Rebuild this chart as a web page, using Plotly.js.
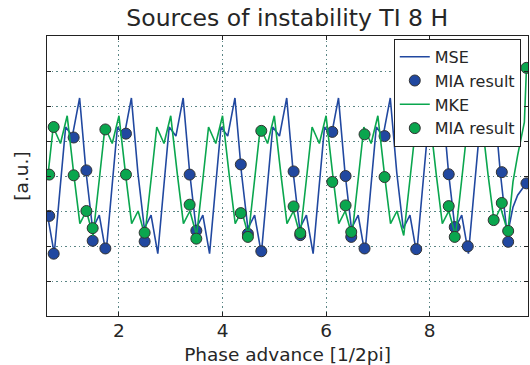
<!DOCTYPE html>
<html>
<head>
<meta charset="utf-8">
<script src="https://cdn.plot.ly/plotly-3.0.1.min.js"></script>
<style>html,body{margin:0;padding:0;background:#fff;}#chart{width:530px;height:365px;}</style>
</head>
<body>
<div id="chart"></div>
<script>
// MSE line (blue)
var mseX = [0.62,0.75,0.86,0.97,
  1.10,1.24,1.365,1.49,1.62,1.75,1.86,1.97,
  2.10,2.24,2.365,2.49,2.62,2.75,2.86,2.97,
  3.10,3.24,3.365,3.49,3.62,3.75,3.86,3.97,
  4.10,4.24,4.365,4.49,4.62,4.75,4.86,4.97,
  5.10,5.24,5.365,5.49,5.62,5.75,5.86,5.97,
  6.10,6.24,6.365,6.49,6.62,6.75,6.86,6.97,
  7.10,7.24,7.365,7.49,7.62,7.75,7.86,7.97,
  8.10,8.24,8.365,8.49,8.62,8.75,8.86,8.97,
  9.10,9.24,9.365,9.50,9.61,9.70,9.87];
var mseY = [2.88,1.78,3.60,5.40,
  5.14,6.23,4.10,2.50,2.88,1.78,3.60,5.40,
  5.14,6.23,4.10,2.50,2.88,1.78,3.60,5.40,
  5.14,6.23,4.10,2.50,2.88,1.78,3.60,5.40,
  5.14,6.23,4.10,2.50,2.88,1.78,3.60,5.40,
  5.14,6.23,4.10,2.50,2.88,1.78,3.60,5.40,
  5.14,6.23,4.10,2.50,2.88,1.78,3.60,5.40,
  5.14,6.23,4.10,2.50,2.88,1.78,3.60,5.40,
  5.14,6.23,4.10,2.50,2.88,1.78,3.60,5.40,
  5.14,6.23,4.10,2.30,3.11,3.45,3.80];

// MSE MIA result (blue markers)
var miaMseX = [0.653,0.739,1.125,1.371,1.492,1.737,2.135,2.496,3.365,3.494,4.353,4.49,4.749,5.373,5.502,6.12,6.377,6.486,6.743,7.13,7.741,8.369,8.485,8.737,9.394,9.517,9.87];
var miaMseY = [2.86,1.78,5.10,4.16,2.15,1.93,5.21,2.13,4.04,2.44,4.33,2.35,1.85,4.13,2.31,5.26,4.00,2.26,1.93,5.14,1.91,4.05,2.54,1.99,4.11,2.12,3.79];

// MKE line (green)
var mkeX = [0.62,0.73,0.87,
  1.00,1.13,1.245,1.37,1.50,1.62,1.73,1.87,
  2.00,2.13,2.245,2.37,2.50,2.62,2.73,2.87,
  3.00,3.13,3.245,3.37,3.50,3.62,3.73,3.87,
  4.00,4.13,4.245,4.37,4.50,4.62,4.73,4.87,
  5.00,5.13,5.245,5.37,5.50,5.62,5.73,5.87,
  6.00,6.13,6.245,6.37,6.50,6.62,6.73,6.87,
  7.00,7.13,7.245,7.37,7.50,7.62,7.73,7.87,
  8.00,8.13,8.245,8.37,8.50,8.62,8.73,8.87,
  9.00,9.13,9.245,9.37,9.51,9.61,9.70,9.83,9.87];
var mkeY = [3.90,5.40,4.93,
  5.72,4.02,2.64,3.00,2.30,3.90,5.40,4.93,
  5.72,4.02,2.64,3.00,2.30,3.90,5.40,4.93,
  5.72,4.02,2.64,3.00,2.30,3.90,5.40,4.93,
  5.72,4.02,2.64,3.00,2.30,3.90,5.40,4.93,
  5.72,4.02,2.64,3.00,2.30,3.90,5.40,4.93,
  5.72,4.02,2.64,3.00,2.30,3.90,5.40,4.93,
  5.72,4.02,2.64,3.00,2.30,3.90,5.40,4.93,
  5.72,4.02,2.64,3.00,2.30,3.90,5.40,4.93,
  5.72,4.02,2.70,3.10,2.40,3.83,4.59,5.54,7.07];

// MKE MIA result (green markers)
var miaMkeX = [0.653,0.739,1.125,1.371,1.492,1.737,2.135,2.496,3.365,3.494,4.353,4.49,4.749,5.373,5.502,6.12,6.377,6.486,6.743,7.13,8.369,8.485,9.237,9.394,9.517,9.87];
var miaMkeY = [4.04,5.40,4.02,3.00,2.51,5.33,4.04,2.38,3.18,2.21,2.94,2.26,5.29,3.13,2.37,3.83,3.16,2.40,5.19,3.97,3.14,2.26,2.74,3.23,2.43,7.09];

var xTicks = [2,4,6,8];
var labels = {title: 'Sources of instability TI 8 H', x: 'Phase advance [1/2pi]', y: '[a.u.]'};

var BLUE = '#2148a0', GREEN = '#0aa64e';
var FONT = 'DejaVu Sans, sans-serif';
var TXT = '#262626';

var traces = [
  {x: mseX, y: mseY, mode: 'lines', name: 'MSE', line: {color: BLUE, width: 1.6}},
  {x: miaMseX, y: miaMseY, mode: 'markers', name: 'MIA result',
   marker: {color: BLUE, size: 11, line: {color: '#333', width: 1}}},
  {x: mkeX, y: mkeY, mode: 'lines', name: 'MKE', line: {color: GREEN, width: 1.6}},
  {x: miaMkeX, y: miaMkeY, mode: 'markers', name: 'MIA result',
   marker: {color: GREEN, size: 11, line: {color: '#333', width: 1}}}
];

var layout = {
  width: 530, height: 365,
  margin: {l: 47, r: 2, t: 36, b: 49},
  paper_bgcolor: '#fff', plot_bgcolor: '#fff',
  font: {family: FONT, color: TXT, size: 18},
  title: {text: labels.title, font: {family: FONT, size: 23.5, color: TXT},
          x: 0.542, xanchor: 'center', y: 0.951, yanchor: 'middle', yref: 'container'},
  xaxis: {
    range: [0.61, 9.90], tickvals: xTicks, ticktext: xTicks.map(String),
    ticks: 'inside', ticklen: 4, tickcolor: '#222', mirror: 'ticks',
    showline: true, linecolor: '#222', linewidth: 1.3,
    showgrid: true, gridcolor: '#5a8585', gridwidth: 1, griddash: '1.5px,3px',
    zeroline: false, tickfont: {size: 18.5, color: TXT}, ticklabelstandoff: -3,
    title: {text: labels.x, font: {size: 18.5, color: TXT}, standoff: 8}
  },
  yaxis: {
    range: [0, 8], dtick: 1, tick0: 0, showticklabels: false,
    ticks: 'inside', ticklen: 4, tickcolor: '#222', mirror: 'ticks',
    showline: true, linecolor: '#222', linewidth: 1.3,
    showgrid: true, gridcolor: '#5a8585', gridwidth: 1, griddash: '1.5px,3px',
    zeroline: false,
    title: {text: labels.y, font: {size: 18.5, color: TXT}, standoff: 12}
  },
  showlegend: true,
  legend: {x: 0.985, y: 0.99, xanchor: 'right', yanchor: 'top',
           bgcolor: '#fff', bordercolor: '#222', borderwidth: 1,
           font: {size: 16, color: TXT}, tracegroupgap: 0}
};

Plotly.newPlot('chart', traces, layout, {staticPlot: true, displayModeBar: false});
</script>
</body>
</html>
